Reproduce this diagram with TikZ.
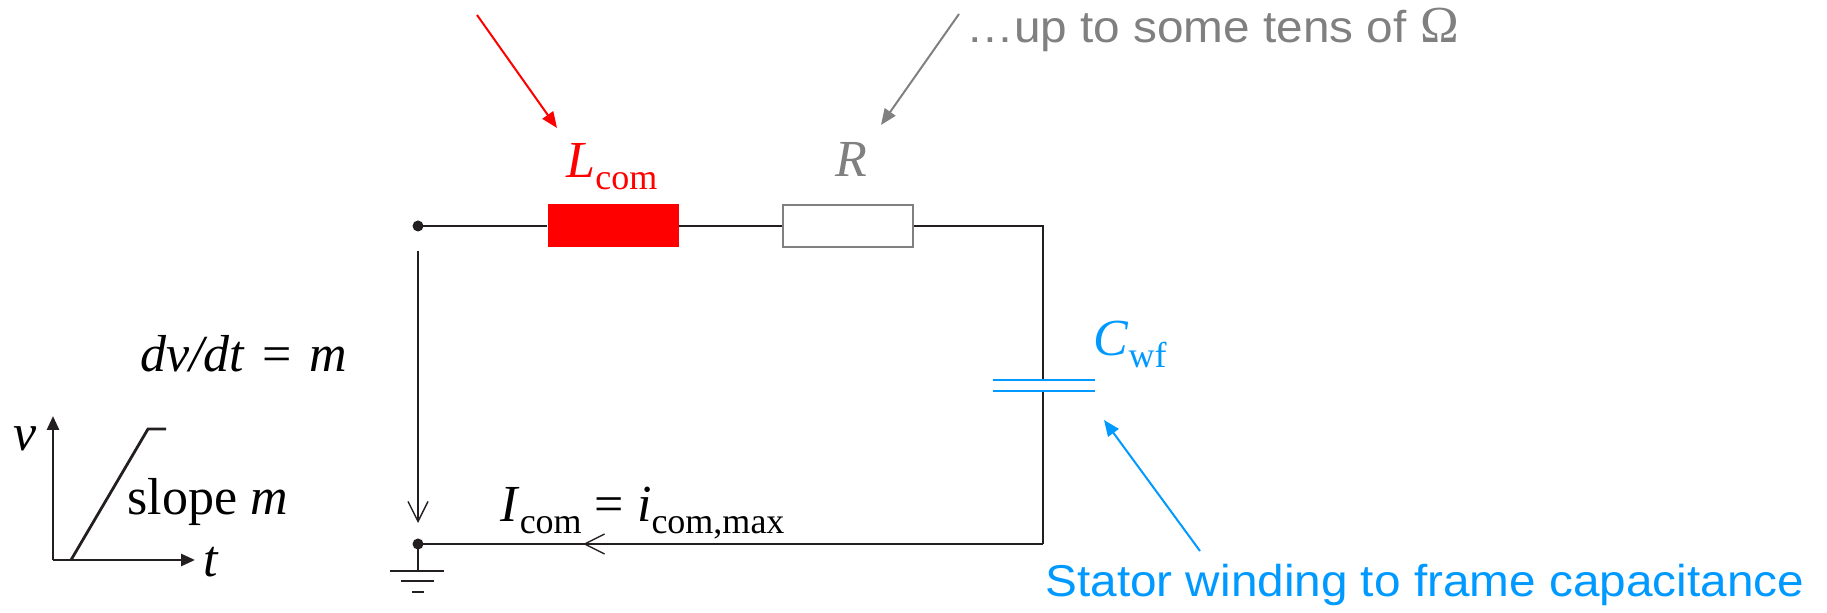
\documentclass[tikz,border=0pt]{standalone}
\usepackage{fontspec}
\setmainfont{Liberation Serif}
\newfontfamily\labsans{Liberation Sans}[FakeStretch=1.07]
\usetikzlibrary{arrows.meta,decorations.markings}
\definecolor{wire}{RGB}{35,31,32}
\definecolor{rgray}{RGB}{128,128,128}
\definecolor{cblue}{RGB}{0,153,255}
\newcommand{\subtx}[1]{\raisebox{-6pt}{\fontsize{18}{18}\selectfont #1}}
\begin{document}
\begin{tikzpicture}[x=0.5pt,y=-0.5pt,
  wirel/.style={draw=wire, line width=1pt},
  lbl/.style={inner sep=0pt, font=\fontsize{26}{26}\selectfont},
  slbl/.style={inner sep=0pt, font=\labsans\fontsize{22.3}{22.3}\selectfont},
  callout/.style={line width=1pt, -{Triangle[length=8pt,width=6.5pt]}},
  barb/.style={-{Straight Barb[length=10pt,width=10pt,line width=0.7pt]}},
  axis/.style={draw=wire, line width=1.4pt, -{Triangle[length=7pt,width=6pt]}}]
\useasboundingbox (0,0) rectangle (1827,613);
% components
\node[fill=red, minimum width=65.5pt, minimum height=21.5pt, inner sep=0pt] (Lc) at (613,226) {};
\node[draw=rgray, fill=white, line width=1pt, minimum width=65pt, minimum height=21pt, inner sep=0pt] (Rs) at (848,226) {};
\coordinate (T) at (418,226);
\coordinate (B) at (418,544);
\coordinate (TR) at (1043,226);
\coordinate (C1) at (1043,380);
\coordinate (C2) at (1043,391);
\coordinate (BR) at (1043,544);
\draw[wirel] (T) -- (Lc.west) (Lc.east) -- (Rs.west) (Rs.east) -- (TR) -- (C1) (C2) -- (BR);
\draw[wirel, postaction={decorate, decoration={markings,
   mark=at position 0.736 with {\arrow{Straight Barb[length=10pt,width=10pt,line width=0.7pt]}}}}] (BR) -- (B);
% capacitor plates
\coordinate (P1a) at (993,380); \coordinate (P1b) at (1095,380);
\coordinate (P2a) at (993,391); \coordinate (P2b) at (1095,391);
\draw[cblue, line width=1.3pt] (P1a) -- (P1b) (P2a) -- (P2b);
% dots
\fill[wire] (T) circle (5.5);
\fill[wire] (B) circle (5.5);
% voltage arrow
\coordinate (Va) at (418,251); \coordinate (Vb) at (418,523);
\draw[draw=wire, line width=0.7pt, barb] (Va) -- (Vb);
% ground
\coordinate (G0) at (418,571);
\draw[wirel] (B) -- (G0);
\draw[wirel] (390,571) -- (444,571) (401,581) -- (434,581) (412,592) -- (424,592);
% labels
\node[lbl, text=red, anchor=base west] (Llab) at (566,178) {\textit{L}\subtx{com}};
\node[lbl, text=rgray, anchor=base] (Rlab) at (851,177) {\textit{R}};
\node[lbl, text=cblue, anchor=base west] (Clab) at (1093,356) {\textit{C}\subtx{wf}};
\node[lbl, anchor=base west] (dv) at (140,372) {\textit{dv/dt}\,\,=\,\,\textit{m}};
\node[lbl, anchor=base west] (Ic) at (500,522) {\textit{I}\subtx{com} = \textit{i}\subtx{com,max}};
\node[slbl, text=rgray, anchor=base west] (gtxt) at (966,43) {\ldots up to some tens of {\fontspec{Liberation Serif}\fontsize{26}{26}\selectfont\symbol{"03A9}}};
\node[slbl, text=cblue, anchor=base west] (btxt) at (1045,597) {Stator winding to frame capacitance};
% callout arrows
\coordinate (ra) at (477,15); \coordinate (rb) at (557,128);
\draw[callout, red] (ra) -- (rb);
\coordinate (ga) at (959,14); \coordinate (gb) at (881,125);
\draw[callout, rgray] (ga) -- (gb);
\coordinate (ba) at (1200,551); \coordinate (bb) at (1104,420);
\draw[callout, cblue] (ba) -- (bb);
% v-t graph
\coordinate (O) at (53,560);
\coordinate (Ytip) at (53,416);
\coordinate (Xtip) at (195,560);
\draw[axis] (O) -- (Ytip);
\draw[axis] (O) -- (Xtip);
\coordinate (r0) at (71,560); \coordinate (r1) at (148,429); \coordinate (r2) at (166,429);
\draw[draw=wire, line width=1.4pt] (r0) -- (r1) -- (r2);
\node[lbl, anchor=base west] (vl) at (13,451) {\textit{v}};
\node[lbl, anchor=base west] (tl) at (203,577) {\textit{t}};
\node[lbl, anchor=base west] (sl) at (127,515) {slope \textit{m}};
\end{tikzpicture}
\end{document}
